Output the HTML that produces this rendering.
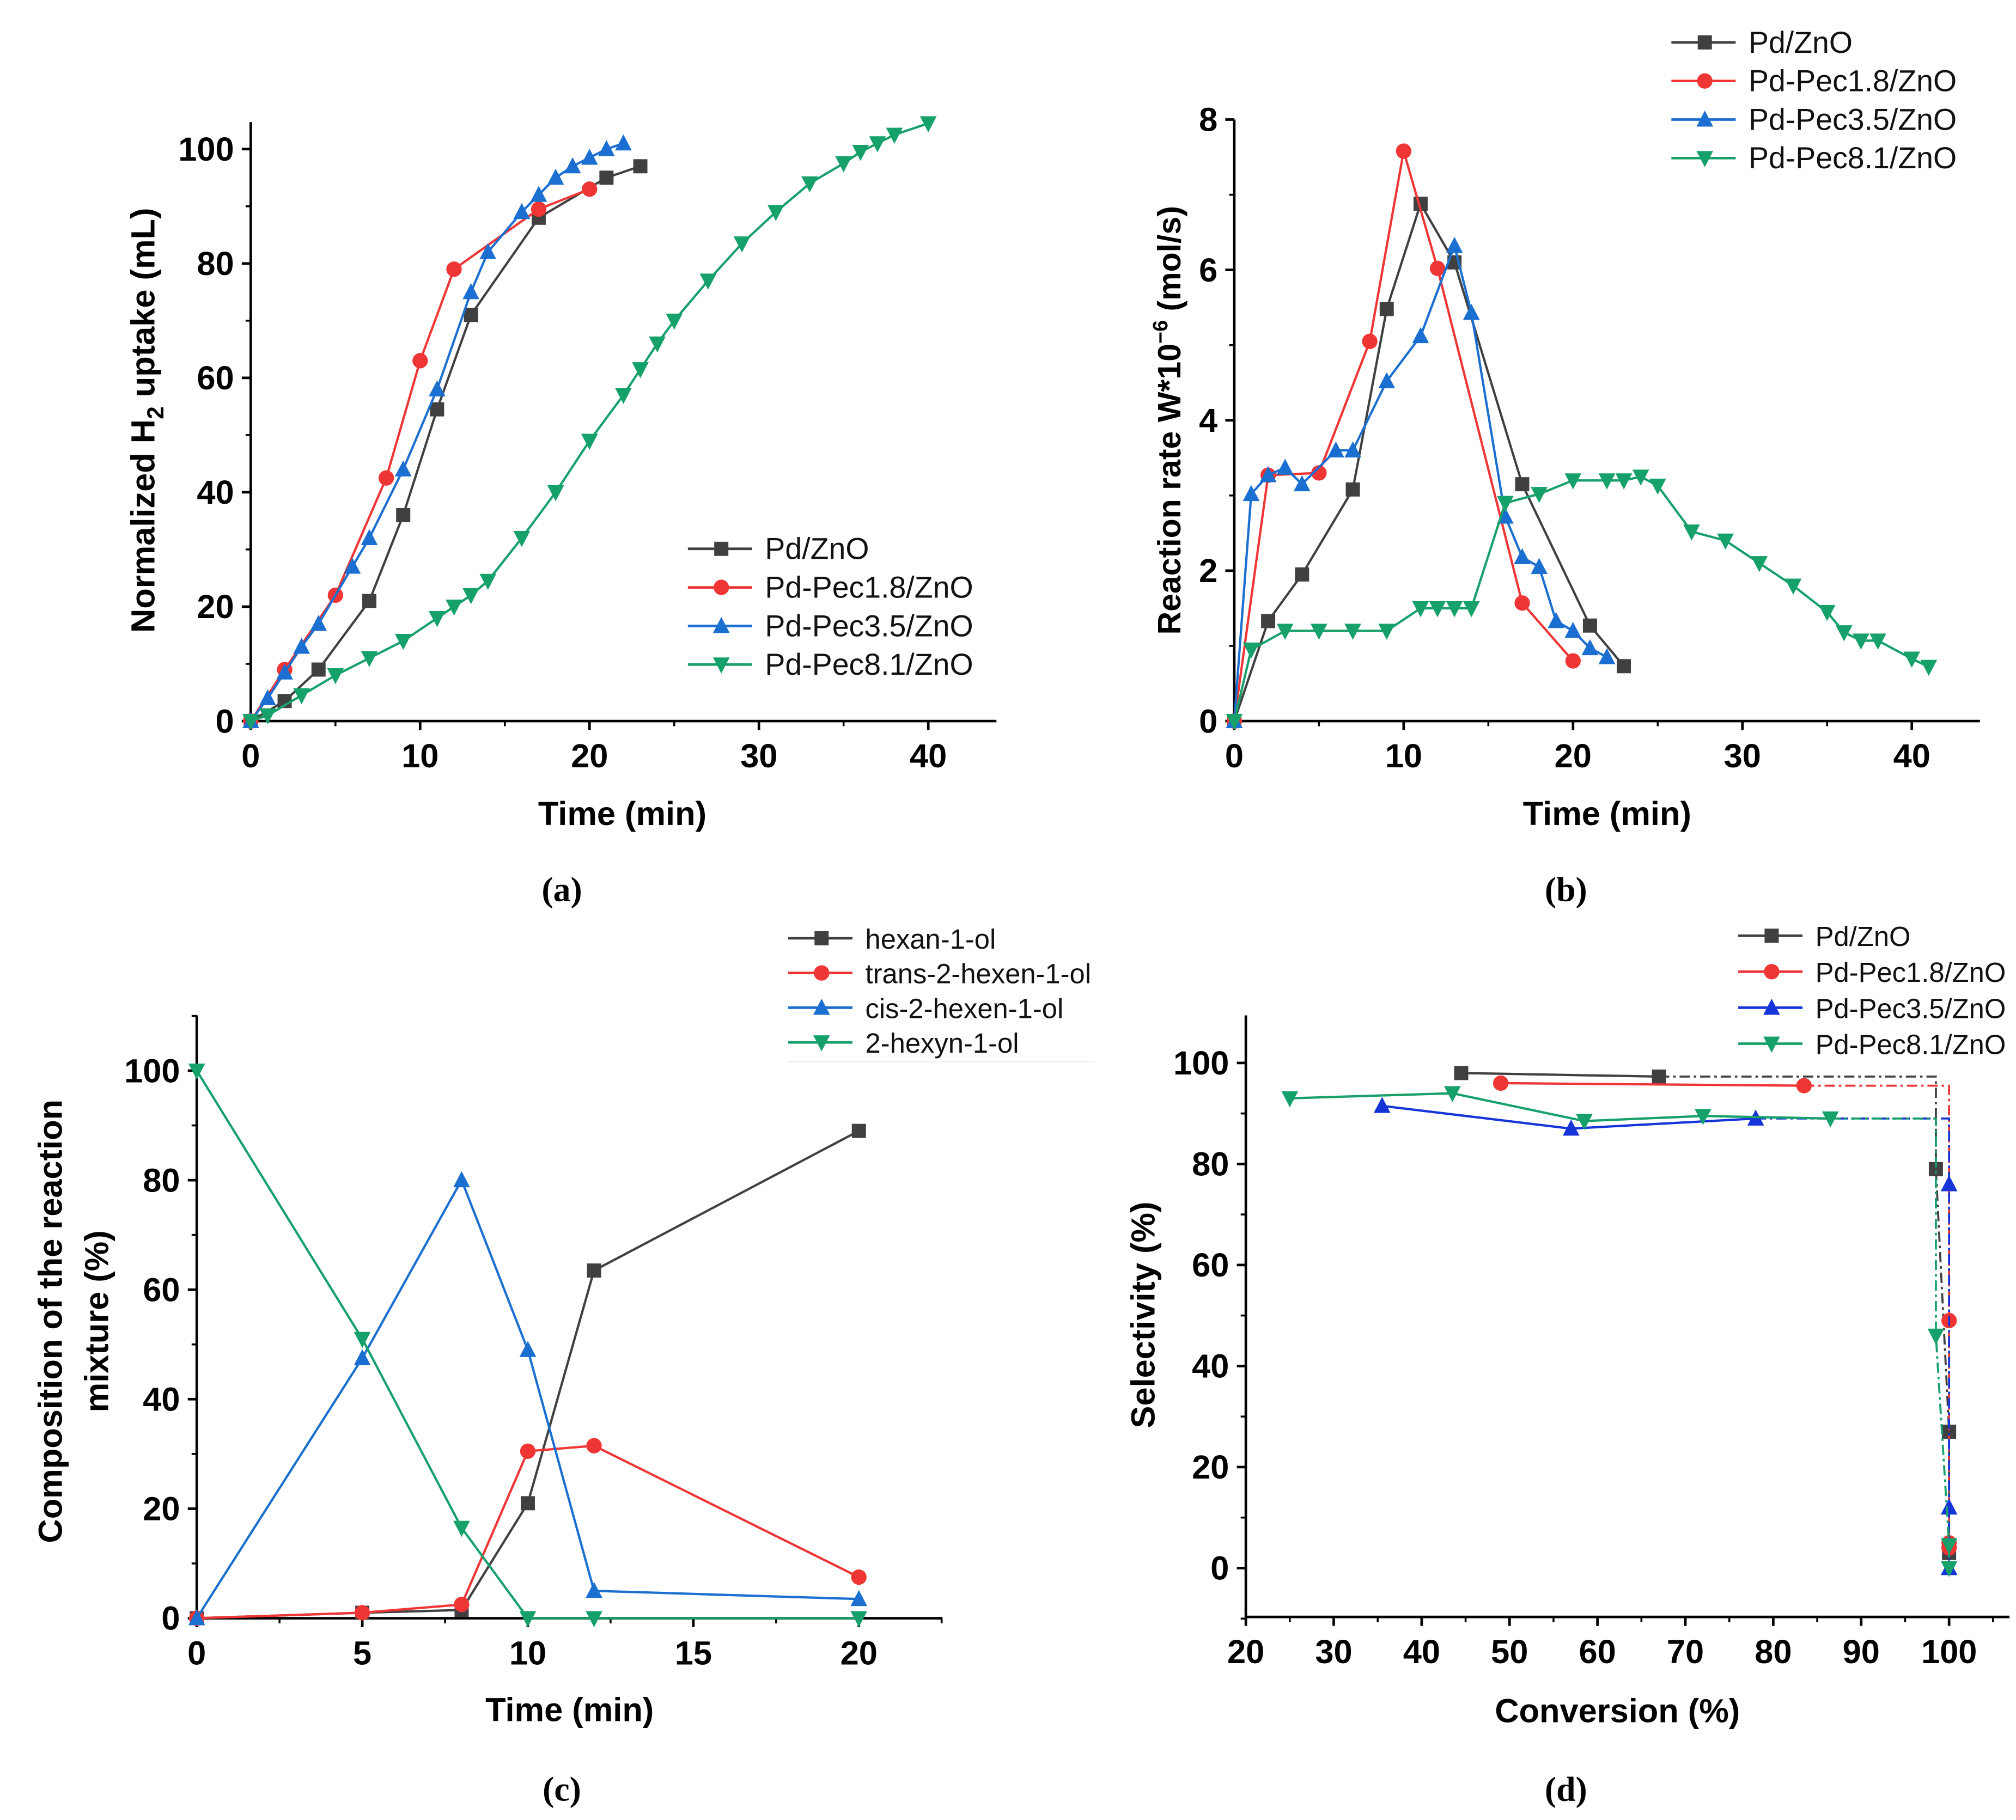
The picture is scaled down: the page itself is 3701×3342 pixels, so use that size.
<!DOCTYPE html>
<html><head><meta charset="utf-8">
<style>
html,body{margin:0;padding:0;background:#fff;}
svg{display:block;}
text{font-family:"Liberation Sans",sans-serif;}
</style></head>
<body>
<svg id="fig" xmlns="http://www.w3.org/2000/svg" width="3701" height="3342" viewBox="0 0 1568 1416"></svg>
<script>
// ---------- Panel (a) data ----------
const aT_pd=[0,2,4,7,9,11,13,17,21,23];
const aV_pd=[0,3.5,9,21,36,54.5,71,88,95,97];
const aT_p18=[0,2,5,8,10,12,17,20];
const aV_p18=[0,9,22,42.5,63,79,89.5,93];
const aT_p35=[0,1,2,3,4,6,7,9,11,13,14,16,17,18,19,20,21,22];
const aV_p35=[0,4,8.5,13,17,27,32,44,58,75,82,89,92,95,97,98.5,100,101];
const aT_p81=[0,1,3,5,7,9,11,12,13,14,16,18,20,22,23,24,25,27,29,31,33,35,36,37,38,40];
const aV_p81=[0,1,4.5,8,11,14,18,20,22,24.5,32,40,49,57,61.5,66,70,77,83.5,89,94,97.5,99.5,101,102.5,104.5];
const aXTicks=["0","10","20","30","40"];
const aYTicks=["0","20","40","60","80","100"];
// ---------- Panel (b) data ----------
const bT_pd=[0,2,4,7,9,11,13,17,21,23];
const bV_pd=[0,1.33,1.95,3.08,5.48,6.88,6.1,3.15,1.27,0.73];
const bT_p18=[0,2,5,8,10,12,17,20];
const bV_p18=[0,3.27,3.3,5.05,7.58,6.02,1.57,0.8];
const bT_p35=[0,1,2,3,4,6,7,9,11,13,14,16,17,18,19,20,21,22];
const bV_p35=[0,3.02,3.27,3.37,3.15,3.6,3.6,4.52,5.12,6.32,5.43,2.72,2.18,2.05,1.33,1.2,0.97,0.85];
const bT_p81=[0,1,3,5,7,9,11,12,13,14,16,18,20,22,23,24,25,27,29,31,33,35,36,37,38,40,41];
const bV_p81=[0,0.95,1.2,1.2,1.2,1.2,1.5,1.5,1.5,1.5,2.9,3.02,3.2,3.2,3.2,3.25,3.13,2.52,2.4,2.1,1.8,1.45,1.18,1.07,1.07,0.83,0.72];
const bXTicks=["0","10","20","30","40"];
const bYTicks=["0","2","4","6","8"];
// ---------- Panel (c) data ----------
const cT=[0,5,8,10,12,20];
const cHexanol=[0,1,1.5,21,63.5,89];
const cTrans=[0,1,2.5,30.5,31.5,7.5];
const cCis=[0,47.5,80,49,5,3.5];
const cHexynol=[100,51,16.5,0,0,0];
const cXTicks=["0","5","10","15","20"];
const cYTicks=["0","20","40","60","80","100"];
// ---------- Panel (d) data ----------
const dConv_pd=[44.5,67,98.5,100,100];
const dSel_pd=[98,97.3,79,27,3];
const dConv_p18=[49,83.5,100,100,100];
const dSel_p18=[96,95.5,49,5,4];
const dConv_p35=[35.5,57,78,100,100,100];
const dSel_p35=[91.5,87,89,76,12,0];
const dConv_p81=[25,43.5,58.5,72,86.5,98.5,100,100];
const dSel_p81=[93,94,88.5,89.5,89,46,4.5,0];
const dSolid_pd=2, dSolid_p18=2, dSolid_p35=3, dSolid_p81=5;
const dXTicks=["20","30","40","50","60","70","80","90","100"];
const dYTicks=["0","20","40","60","80","100"];

const NS="http://www.w3.org/2000/svg";
const svg=document.getElementById('fig');
const C={k:"#404040",r:"#f03535",b:"#1a6fd0",bd:"#1535d8",g:"#16a06a"};
function mk(tag,attrs,parent){const e=document.createElementNS(NS,tag);for(const k in attrs)e.setAttribute(k,attrs[k]);(parent||svg).appendChild(e);return e;}
function txt(s,attrs,parent){const e=mk('text',attrs,parent);e.textContent=s;return e;}
function marker(g,type,x,y,col){
  const s=5.5;let e;
  if(type==='sq'){e=mk('rect',{x:x-s,y:y-s,width:2*s,height:2*s,fill:col},g);}
  else if(type==='ci'){e=mk('circle',{cx:x,cy:y,r:s+0.5,fill:col},g);}
  else if(type==='up'){e=mk('polygon',{points:`${x},${y-s-1.5} ${x-s-1},${y+s} ${x+s+1},${y+s}`,fill:col},g);}
  else {e=mk('polygon',{points:`${x},${y+s+1.5} ${x-s-1},${y-s} ${x+s+1},${y-s}`,fill:col},g);}
  
  
}
function axes(p){
  const g=mk('g',{});
  
  
  mk('line',{x1:p.x0,y1:p.yb,x2:p.xend,y2:p.yb,stroke:'#000','stroke-width':2},g);
  mk('line',{x1:p.x0,y1:p.yb,x2:p.x0,y2:p.ytop,stroke:'#000','stroke-width':2},g);
  p.xTicks.forEach((t,i)=>{
    const v=p.xMin+i*p.xStep,x=p.sx(v);
    mk('line',{x1:x,y1:p.yb,x2:x,y2:p.yb+7,stroke:'#000','stroke-width':2},g);
    const xm=p.sx(v+p.xStep/2); if(xm<p.xend) mk('line',{x1:xm,y1:p.yb,x2:xm,y2:p.yb+4,stroke:'#000','stroke-width':1.5},g);
    const e=txt(t,{x:x,y:p.yb+36,'font-size':26,'font-weight':'bold','text-anchor':'middle'},g);
    
    
  });
  p.yTicks.forEach((t,i)=>{
    const v=p.yMin+i*p.yStep,y=p.sy(v);
    mk('line',{x1:p.x0,y1:y,x2:p.x0-7,y2:y,stroke:'#000','stroke-width':2},g);
    const ym=p.sy(v+p.yStep/2); if(ym>p.ytop) mk('line',{x1:p.x0,y1:ym,x2:p.x0-4,y2:ym,stroke:'#000','stroke-width':1.5},g);
    if(i===0 && p.yFloor!==undefined){const yf=p.sy(v-p.yStep/2);mk('line',{x1:p.x0,y1:yf,x2:p.x0-4,y2:yf,stroke:'#000','stroke-width':1.5},g);}
    const e=txt(t,{x:p.x0-13,y:y+9,'font-size':26,'font-weight':'bold','text-anchor':'end'},g);
    
    
  });
}
function series(name,xs,ys,sx,sy,col,type,dashFrom){
  const g=mk('g',{});
  
  
  const n=dashFrom===undefined?xs.length:dashFrom;
  const pts=[];for(let i=0;i<n;i++)pts.push(sx(xs[i])+','+sy(ys[i]));
  mk('polyline',{points:pts.join(' '),fill:'none',stroke:col,'stroke-width':1.8},g);
  if(dashFrom!==undefined){
    const last=dashFrom-1;const dp=[sx(xs[last])+','+sy(ys[last]),sx(xs[dashFrom])+','+sy(ys[last])];
    for(let i=dashFrom;i<xs.length;i++)dp.push(sx(xs[i])+','+sy(ys[i]));
    mk('polyline',{points:dp.join(' '),fill:'none',stroke:col,'stroke-width':1.6,'stroke-dasharray':'8 3 2 3'},g);
  }
  for(let i=0;i<xs.length;i++)marker(g,type,sx(xs[i]),sy(ys[i]),col);
}
function legend(x,y0,dy,fs,items){
  const g=mk('g',{});
  
  
  items.forEach((it,i)=>{
    const y=y0+i*dy;
    const e=mk('g',{},g);
    
    
    mk('line',{x1:x,y1:y,x2:x+50,y2:y,stroke:it[1],'stroke-width':2},e);
    marker(e,it[2],x+26,y,it[1]);
    txt(it[0],{x:x+60,y:y+8,'font-size':fs,fill:'#111'},e);
  });
}
function label(s,x,y,fs,rot,name,serif){
  const a={x:x,y:y,'font-size':fs,'font-weight':'bold','text-anchor':'middle'};
  if(rot)a.transform=`rotate(-90 ${x} ${y})`;
  const e=txt(s,a);
  
  
  if(serif)e.style.fontFamily='"Liberation Serif",serif';
  return e;
}
// ---------- Panel (a) ----------
{
  const sx=v=>195+v*13.175, sy=v=>561-v*4.45;
  axes({name:'panel-a',x0:195,yb:561,xend:775,ytop:95,sx,sy,xMin:0,xStep:10,yMin:0,yStep:20,xTicks:aXTicks,yTicks:aYTicks});
  series('series-pd-zno',aT_pd,aV_pd,sx,sy,C.k,'sq');
  series('series-pd-pec1.8',aT_p18,aV_p18,sx,sy,C.r,'ci');
  series('series-pd-pec3.5',aT_p35,aV_p35,sx,sy,C.b,'up');
  series('series-pd-pec8.1',aT_p81,aV_p81,sx,sy,C.g,'dn');
  legend(535,427,30,23.5,[["Pd/ZnO",C.k,'sq'],["Pd-Pec1.8/ZnO",C.r,'ci'],["Pd-Pec3.5/ZnO",C.b,'up'],["Pd-Pec8.1/ZnO",C.g,'dn']]);
  const yl=label('',120,327,26,true,'y-axis-title');
  yl.innerHTML='Normalized H<tspan font-size="18" dy="7">2</tspan><tspan dy="-7"> uptake (mL)</tspan>';
  label('Time (min)',484,642,26,false,'x-axis-title');
  label('(a)',437,701,27,false,'panel-label-a',true);
}
// ---------- Panel (b) ----------
{
  const sx=v=>960+v*13.175, sy=v=>561-v*58.5;
  axes({name:'panel-b',x0:960,yb:561,xend:1540,ytop:93,sx,sy,xMin:0,xStep:10,yMin:0,yStep:2,xTicks:bXTicks,yTicks:bYTicks});
  series('series-pd-zno',bT_pd,bV_pd,sx,sy,C.k,'sq');
  series('series-pd-pec1.8',bT_p18,bV_p18,sx,sy,C.r,'ci');
  series('series-pd-pec3.5',bT_p35,bV_p35,sx,sy,C.b,'up');
  series('series-pd-pec8.1',bT_p81,bV_p81,sx,sy,C.g,'dn');
  legend(1300,33,30,23.5,[["Pd/ZnO",C.k,'sq'],["Pd-Pec1.8/ZnO",C.r,'ci'],["Pd-Pec3.5/ZnO",C.b,'up'],["Pd-Pec8.1/ZnO",C.g,'dn']]);
  const yl=label('',918,327,25,true,'y-axis-title');
  yl.innerHTML='Reaction rate W*10<tspan font-size="16" dy="-10">−6</tspan><tspan dy="10"> (mol/s)</tspan>';
  label('Time (min)',1250,642,26,false,'x-axis-title');
  label('(b)',1218,701,27,false,'panel-label-b',true);
}
// ---------- Panel (c) ----------
{
  const sx=v=>153+v*25.75, sy=v=>1259-v*4.26;
  axes({name:'panel-c',x0:153,yb:1259,xend:733,ytop:790,sx,sy,xMin:0,xStep:5,yMin:0,yStep:20,xTicks:cXTicks,yTicks:cYTicks});
  series('series-hexan-1-ol',cT,cHexanol,sx,sy,C.k,'sq');
  series('series-trans-2-hexen-1-ol',cT,cTrans,sx,sy,C.r,'ci');
  series('series-cis-2-hexen-1-ol',cT,cCis,sx,sy,C.b,'up');
  series('series-2-hexyn-1-ol',cT,cHexynol,sx,sy,C.g,'dn');
  legend(613,730,27,21.5,[["hexan-1-ol",C.k,'sq'],["trans-2-hexen-1-ol",C.r,'ci'],["cis-2-hexen-1-ol",C.b,'up'],["2-hexyn-1-ol",C.g,'dn']]);
  mk('line',{x1:613,y1:826,x2:852,y2:826,stroke:'#eee','stroke-width':1});
  label('Composition of the reaction',48,1028,26,true,'y-axis-title');
  label('mixture (%)',84,1028,26,true,'y-axis-title-line2');
  label('Time (min)',443,1339,26,false,'x-axis-title');
  label('(c)',437,1401,27,false,'panel-label-c',true);
}
// ---------- Panel (d) ----------
{
  const sx=v=>969+(v-20)*6.8375, sy=v=>1220-v*3.93;
  axes({name:'panel-d',x0:969,yb:1258,xend:1563,ytop:790,sx,sy,xMin:20,xStep:10,yMin:0,yStep:20,xTicks:dXTicks,yTicks:dYTicks,yFloor:true});
  series('series-pd-zno',dConv_pd,dSel_pd,sx,sy,C.k,'sq',dSolid_pd);
  series('series-pd-pec1.8',dConv_p18,dSel_p18,sx,sy,C.r,'ci',dSolid_p18);
  series('series-pd-pec3.5',dConv_p35,dSel_p35,sx,sy,C.bd,'up',dSolid_p35);
  series('series-pd-pec8.1',dConv_p81,dSel_p81,sx,sy,C.g,'dn',dSolid_p81);
  legend(1352,728,28,21.5,[["Pd/ZnO",C.k,'sq'],["Pd-Pec1.8/ZnO",C.r,'ci'],["Pd-Pec3.5/ZnO",C.bd,'up'],["Pd-Pec8.1/ZnO",C.g,'dn']]);
  label('Selectivity (%)',898,1023,26,true,'y-axis-title');
  label('Conversion (%)',1258,1340,26,false,'x-axis-title');
  label('(d)',1218,1401,27,false,'panel-label-d',true);
}
</script>
</body></html>
